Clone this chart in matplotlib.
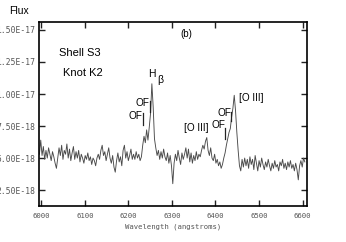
import numpy as np
import matplotlib
matplotlib.use("Agg")
import matplotlib.pyplot as plt
from matplotlib.ticker import FormatStrFormatter

# spectrum, flux in units of 1e-18, sampled every 3 angstroms from 5996
wave_start = 5996.0
wave_step = 3.0
flux_e18 = [
    5.3, 6.4, 5.2, 5.9, 4.9, 5.6, 5.0, 5.8, 5.3, 4.8, 5.5, 5.1, 4.6, 4.2, 5.0,
    5.8, 5.2, 6.0, 4.9, 5.6, 5.3, 6.1, 5.0, 5.7, 4.8, 5.4, 5.9, 4.9, 5.5, 5.0,
    5.6, 4.7, 5.3, 5.0, 4.6, 5.2, 4.9, 5.4, 4.8, 5.1, 4.5, 5.0, 4.8, 4.4, 5.0,
    5.3, 4.9, 5.6, 6.0, 5.2, 5.5, 4.8, 5.3, 5.8, 5.0, 4.6, 5.2, 4.3, 3.9, 4.8,
    5.4, 4.7, 5.1, 4.4, 5.6, 6.0, 5.0, 5.5, 4.8, 5.2, 5.7, 4.9, 5.3, 4.9, 5.5,
    5.0, 5.3, 4.8, 5.1, 6.0, 6.7, 6.2, 7.2, 6.4, 7.4, 8.5, 10.8, 9.0, 6.5, 5.8,
    5.2, 5.6, 4.9, 5.5, 5.0, 5.7, 5.1, 4.8, 5.4, 4.6, 5.2, 4.4, 3.0, 4.6, 5.3,
    4.8, 5.6, 5.0, 4.5, 5.4, 4.9, 5.3, 5.8, 5.0, 5.7, 4.7, 5.4, 4.6, 5.2, 4.8,
    5.5, 4.9, 5.3, 5.1, 5.6, 6.0, 5.7, 6.3, 6.6, 5.6, 5.2, 5.8, 5.0, 4.8, 5.3,
    4.6, 4.9, 4.4, 4.7, 4.2, 4.5, 5.0, 5.4, 6.0, 6.5, 7.0, 7.3, 8.2, 8.9, 9.9,
    8.7, 7.0, 5.6, 4.4, 4.0, 4.9, 4.3, 5.0, 4.4, 4.9, 4.2, 5.1, 4.5, 4.9, 4.1,
    5.2, 4.6, 4.0, 4.8, 4.3, 5.0, 4.5, 4.1, 4.7, 4.3, 4.9, 4.4, 4.0, 4.6, 4.2,
    4.8, 4.3, 4.5, 4.0, 4.7, 4.4, 4.9, 4.2, 4.6, 4.1, 4.7, 4.3, 4.8, 4.2, 4.5,
    4.0, 4.6, 4.1, 3.3, 4.4, 4.8, 4.3, 5.0, 4.7,
]

x_ticks = [6000, 6100, 6200, 6300, 6400, 6500, 6600]
y_ticks = [2.5e-18, 5.0e-18, 7.5e-18, 1.0e-17, 1.25e-17, 1.5e-17]

title_text = "(b)"
object_text = ["Shell S3", "Knot K2"]
line_labels = ["OF", "OF", "[O III]", "OF", "OF", "[O III]"]


def main():
    flux = np.array(flux_e18) * 1e-18
    wave = wave_start + wave_step * np.arange(len(flux))

    fig = plt.figure(figsize=(3.46, 2.42), dpi=100)
    ax = fig.add_axes([0.1127, 0.1488, 0.7746, 0.7603])
    ax.plot(wave, flux, color="#4a4a4a", lw=0.65)

    ax.set_xlim(5995, 6610)
    ax.set_ylim(1.26e-18, 1.562e-17)
    ax.set_xticks(x_ticks)
    ax.set_yticks(y_ticks)
    ax.yaxis.set_major_formatter(FormatStrFormatter("%.2E"))
    ax.tick_params(direction="in", length=4.5, width=1.0, top=True, right=True,
                   colors="#222222", labelcolor="#555555")
    ax.tick_params(axis="y", pad=2.5, labelsize=5.8)
    ax.tick_params(axis="x", pad=5, labelsize=5.2)
    for lab in ax.get_xticklabels() + ax.get_yticklabels():
        lab.set_family("DejaVu Sans Mono")
    for sp in ax.spines.values():
        sp.set_linewidth(1.2)
    ax.set_xlabel("Wavelength (angstroms)", family="DejaVu Sans Mono",
                  fontsize=5.2, color="#555555", labelpad=3)

    sans = "Liberation Sans"
    fig.text(0.055, 0.955, "Flux", family=sans, fontsize=7.5,
             ha="center", va="center")
    ax.text(6332, 1.469e-17, title_text, family=sans, fontsize=7,
            ha="center", va="center")
    ax.text(6089, 1.321e-17, object_text[0], family=sans, fontsize=8,
            ha="center", va="center")
    ax.text(6096, 1.166e-17, object_text[1], family=sans, fontsize=8,
            ha="center", va="center")

    # H beta
    ax.text(6254.5, 1.158e-17, "H", family=sans, fontsize=7.5,
            ha="center", va="center")
    ax.text(6274, 1.112e-17, "\u03b2", family=sans, fontsize=7.5,
            ha="center", va="center")

    # line identifications: label centre, marker wavelength, marker top/bottom
    label_pos = [(6231.5, 9.33), (6215.5, 8.25), (6356.5, 7.31),
                 (6419.5, 8.48), (6405.8, 7.55), (6481.4, 9.72)]
    bars = [(6248.7, 9.49, 8.63), (6233.8, 8.48, 7.62), None,
            (6435.6, 8.63, 7.86), (6421.8, 7.31, 6.46), None]
    for text, (lx, ly), bar in zip(line_labels, label_pos, bars):
        ax.text(lx, ly * 1e-18, text, family=sans, fontsize=7.2,
                ha="center", va="center")
        if bar is not None:
            ax.plot([bar[0], bar[0]], [bar[1] * 1e-18, bar[2] * 1e-18],
                    color="#222222", lw=0.9)

    fig.savefig("out.png", dpi=100)


if __name__ == "__main__":
    main()
